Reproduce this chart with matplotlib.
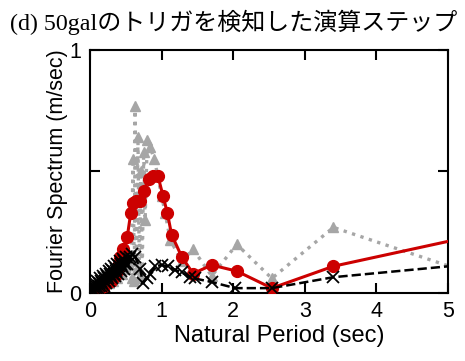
import matplotlib.pyplot as plt

# natural period (sec) and Fourier amplitude (m/sec)
red_T = [0.02, 0.05, 0.08, 0.11, 0.14, 0.17, 0.20, 0.23, 0.26, 0.29, 0.32, 0.35, 0.38,
         0.40, 0.42, 0.46, 0.52, 0.57, 0.60, 0.64, 0.70, 0.75, 0.82, 0.88, 0.95,
         1.02, 1.08, 1.14, 1.28, 1.44, 1.70, 2.05, 2.54, 3.40, 5.12]
red_A = [0.00, 0.01, 0.01, 0.02, 0.02, 0.03, 0.03, 0.04, 0.05, 0.05, 0.06, 0.07, 0.09,
         0.12, 0.15, 0.18, 0.23, 0.33, 0.37, 0.38, 0.38, 0.42, 0.47, 0.48, 0.48,
         0.40, 0.33, 0.24, 0.15, 0.08, 0.115, 0.09, 0.02, 0.11, 0.22]

gray_T = [0.02, 0.08, 0.14, 0.20, 0.26, 0.32, 0.38, 0.45, 0.50, 0.55, 0.58, 0.60, 0.62,
          0.63, 0.65, 0.67, 0.69, 0.71, 0.73, 0.75, 0.77, 0.80, 0.84, 0.90, 1.00,
          1.05, 1.12, 1.28, 1.44, 1.70, 2.05, 2.54, 3.40, 5.12]
gray_A = [0.00, 0.01, 0.02, 0.03, 0.04, 0.05, 0.06, 0.08, 0.10, 0.12, 0.06, 0.55, 0.05,
          0.77, 0.10, 0.64, 0.06, 0.50, 0.08, 0.58, 0.30, 0.63, 0.60, 0.55, 0.40,
          0.33, 0.22, 0.13, 0.18, 0.07, 0.20, 0.06, 0.27, 0.10]

black_T = [0.01, 0.02, 0.03, 0.04, 0.05, 0.06, 0.07, 0.08, 0.09, 0.10, 0.11, 0.12, 0.13,
           0.14, 0.15, 0.16, 0.17, 0.18, 0.19, 0.20, 0.21, 0.22, 0.23, 0.24, 0.25,
           0.26, 0.27, 0.28, 0.29, 0.30, 0.31, 0.32, 0.33, 0.34, 0.35, 0.36, 0.37,
           0.38, 0.39, 0.40, 0.41, 0.42, 0.43, 0.44, 0.45, 0.46, 0.47, 0.48, 0.49,
           0.50, 0.52, 0.54, 0.56, 0.58, 0.63, 0.70, 0.74, 0.79, 0.84, 0.91, 1.00,
           1.09, 1.19, 1.28, 1.40, 1.46, 1.70, 2.03, 2.54, 3.40, 5.12]
black_A = [0.00, 0.02, 0.01, 0.03, 0.01, 0.02, 0.04, 0.02, 0.03, 0.05, 0.02, 0.04, 0.03,
           0.06, 0.03, 0.05, 0.04, 0.07, 0.03, 0.06, 0.05, 0.08, 0.04, 0.07, 0.06,
           0.09, 0.05, 0.08, 0.07, 0.10, 0.06, 0.09, 0.08, 0.11, 0.07, 0.10, 0.09,
           0.12, 0.08, 0.11, 0.10, 0.13, 0.09, 0.12, 0.11, 0.14, 0.10, 0.13, 0.12,
           0.15, 0.12, 0.14, 0.15, 0.16, 0.15, 0.10, 0.04, 0.06, 0.08, 0.11, 0.115,
           0.11, 0.095, 0.085, 0.065, 0.06, 0.045, 0.02, 0.02, 0.065, 0.113]

title = "(d) 50galのトリガを検知した演算ステップ"

fig = plt.figure(figsize=(4.65, 3.61), dpi=100)
ax = fig.add_axes([0.1935, 0.1884, 0.7699, 0.6731])

ax.plot(gray_T, gray_A, color="#a6a6a6", ls=":", lw=2.4, marker="^", ms=7.5,
        zorder=2)
ax.plot(red_T, red_A, color="#cc0000", ls="-", lw=2.2, marker="o", ms=8.5,
        zorder=3)
ax.plot(black_T, black_A, color="black", ls="--", lw=1.8, marker="x", ms=8,
        mew=1.3, zorder=4)

ax.set_xlim(0, 5)
ax.set_ylim(0, 1)
ax.set_xticks([0, 1, 2, 3, 4, 5])
ax.set_yticks([0, 0.5, 1])
ax.set_yticklabels(["0", "", "1"])
ax.tick_params(direction="in", length=7, width=1.5, top=True, right=True,
               labelsize=15.5, pad=6)
for s in ax.spines.values():
    s.set_linewidth(1.5)

font = ["Liberation Sans", "DejaVu Sans"]
ax.set_xlabel("Natural Period (sec)", fontsize=17, family=font, labelpad=1)
ax.xaxis.set_label_coords(0.53, -0.13)
ax.set_ylabel("Fourier Spectrum (m/sec)", fontsize=15.5, family=font, labelpad=1)
for lab in ax.get_xticklabels() + ax.get_yticklabels():
    lab.set_family(font)

fig.text(0.022, 0.938, title, fontsize=17.3, va="center", ha="left",
         family=["Liberation Serif", "Noto Sans CJK JP"])

fig.savefig("out.png", dpi=100)
